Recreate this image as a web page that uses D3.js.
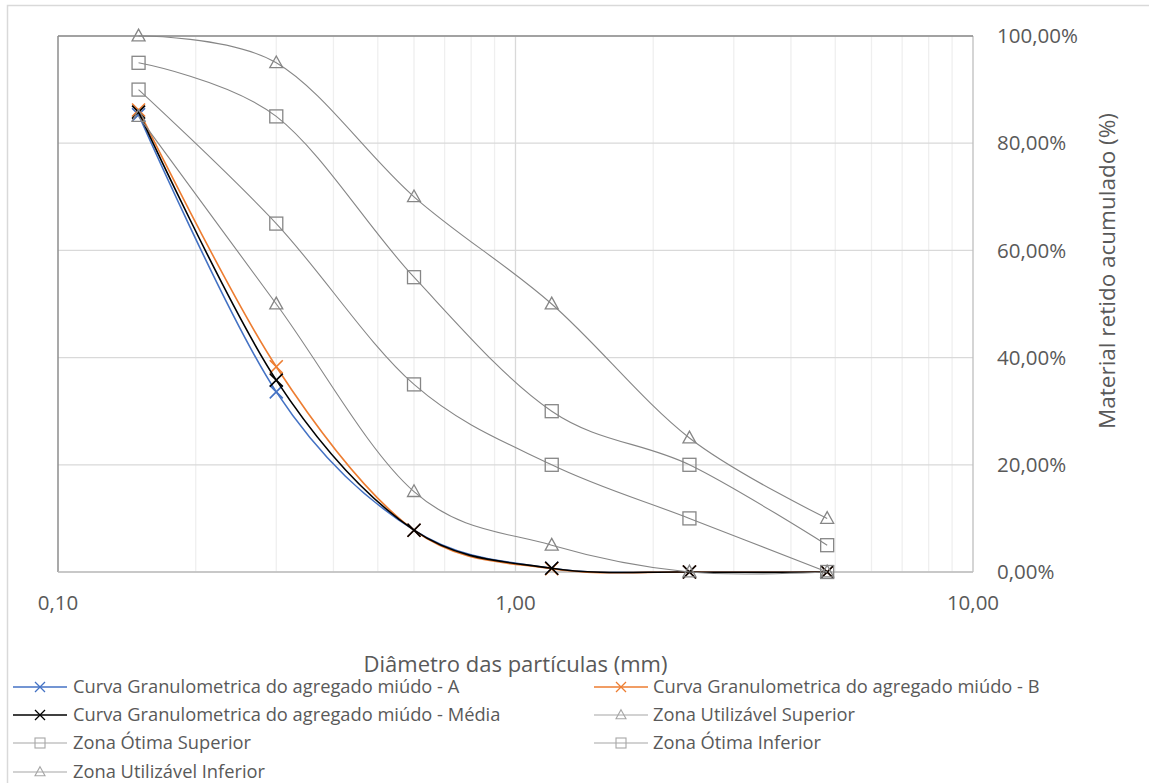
<!DOCTYPE html>
<html>
<head>
<meta charset="utf-8">
<script src="https://cdn.jsdelivr.net/npm/d3@7"></script>
<style>
  body { margin: 0; background: #fff; }
  svg { font-family: "Open Sans", "Noto Sans", sans-serif; }
</style>
</head>
<body>
<div id="chart"></div>
<script>
// sieve openings (mm)
const sieves = [0.15, 0.3, 0.6, 1.2, 2.4, 4.8];

// cumulative retained fractions
const curveA     = [0.853, 0.336, 0.078, 0.007, 0.0, 0.0];
const curveB     = [0.862, 0.383, 0.078, 0.006, 0.0, 0.0];
const curveMedia = [0.858, 0.358, 0.078, 0.007, 0.0, 0.0];
const utilSup    = [1.00, 0.95, 0.70, 0.50, 0.25, 0.10];
const otimaSup   = [0.95, 0.85, 0.55, 0.30, 0.20, 0.05];
const otimaInf   = [0.90, 0.65, 0.35, 0.20, 0.10, 0.00];
const utilInf    = [0.85, 0.50, 0.15, 0.05, 0.00, 0.00];

const yTicks = [0, 0.2, 0.4, 0.6, 0.8, 1.0];
const xTicks = [0.1, 1, 10];
const xMinor = [0.2, 0.3, 0.4, 0.5, 0.6, 0.7, 0.8, 0.9, 2, 3, 4, 5, 6, 7, 8, 9];

const seriesNames = [
  "Curva Granulometrica do agregado miúdo - A",
  "Curva Granulometrica do agregado miúdo - B",
  "Curva Granulometrica do agregado miúdo - Média",
  "Zona Utilizável Superior",
  "Zona Ótima Superior",
  "Zona Ótima Inferior",
  "Zona Utilizável Inferior"
];
const seriesValues = [curveA, curveB, curveMedia, utilSup, otimaSup, otimaInf, utilInf];
const seriesColors = ["#4472c4", "#ed7d31", "#000000", "#868686", "#868686", "#868686", "#868686"];
const seriesMarkers = ["x", "x", "x", "tri", "sq", "sq", "tri"];

let width = 1149;
let height = 783;
let plot = {left: 58, right: 973, top: 36, bottom: 572};
let textColor = "#595959";

let svg = d3.select("#chart").append("svg")
            .attr("width", width)
            .attr("height", height);

// chart area frame
svg.append("rect")
   .attr("x", 7.5).attr("y", 5.5)
   .attr("width", width + 10).attr("height", height + 10)
   .attr("fill", "none")
   .attr("stroke", "#d9d9d9")
   .attr("stroke-width", 1.5);

let x = d3.scaleLog().domain([0.1, 10]).range([plot.left, plot.right]);
let y = d3.scaleLinear().domain([0, 1]).range([plot.bottom, plot.top]);

let fmtX = d3.format(".2f");
let fmtY = d3.format(".2%");
let comma = s => s.replace(".", ",");

//gridlines
let grid = svg.append("g");
xMinor.forEach(function(v) {
  grid.append("line")
      .attr("x1", x(v)).attr("x2", x(v))
      .attr("y1", plot.top).attr("y2", plot.bottom)
      .attr("stroke", "#efefef").attr("stroke-width", 1.3);
});
grid.append("line")
    .attr("x1", x(1)).attr("x2", x(1))
    .attr("y1", plot.top).attr("y2", plot.bottom)
    .attr("stroke", "#d9d9d9").attr("stroke-width", 1.3);
yTicks.forEach(function(v) {
  grid.append("line")
      .attr("x1", plot.left).attr("x2", plot.right)
      .attr("y1", y(v)).attr("y2", y(v))
      .attr("stroke", "#d9d9d9").attr("stroke-width", 1.3);
});

// plot border
svg.append("line").attr("x1", plot.right).attr("x2", plot.right)
   .attr("y1", plot.top).attr("y2", plot.bottom)
   .attr("stroke", "#bfbfbf").attr("stroke-width", 1.3);
svg.append("line").attr("x1", plot.left).attr("x2", plot.right)
   .attr("y1", plot.top).attr("y2", plot.top)
   .attr("stroke", "#8c8c8c").attr("stroke-width", 1.5);
svg.append("line").attr("x1", plot.left).attr("x2", plot.left)
   .attr("y1", plot.top).attr("y2", plot.bottom)
   .attr("stroke", "#8c8c8c").attr("stroke-width", 1.5);
svg.append("line").attr("x1", plot.left).attr("x2", plot.right)
   .attr("y1", plot.bottom).attr("y2", plot.bottom)
   .attr("stroke", "#bfbfbf").attr("stroke-width", 1.5);

// x tick labels
xTicks.forEach(function(v) {
  svg.append("text")
     .attr("x", x(v)).attr("y", 603)
     .attr("dy", "0.35em")
     .attr("text-anchor", "middle")
     .attr("fill", textColor)
     .style("font-size", "20.5px")
     .text(comma(fmtX(v)));
});

// y tick labels (right side)
yTicks.forEach(function(v) {
  svg.append("text")
     .attr("x", 997).attr("y", y(v))
     .attr("dy", "0.35em")
     .attr("fill", textColor)
     .style("font-size", "20.5px")
     .text(comma(fmtY(v)));
});

// axis titles
svg.append("text")
   .attr("x", (plot.left + plot.right) / 2).attr("y", 664)
   .attr("dy", "0.35em")
   .attr("text-anchor", "middle")
   .attr("fill", textColor)
   .style("font-size", "22px")
   .text("Diâmetro das partículas (mm)");

svg.append("text")
   .attr("transform", "translate(1107,271) rotate(-90)")
   .attr("dy", "0.35em")
   .attr("text-anchor", "middle")
   .attr("fill", textColor)
   .style("font-size", "22.5px")
   .text("Material retido acumulado (%)");

/*drawMarker: draws a single marker
*Parameters:
*   group, shape, centre, size, colour
*/
function drawMarker(g, shape, cx, cy, s, colour, w) {
  if (shape == "x") {
    g.append("path")
     .attr("d", "M" + (cx - s) + "," + (cy - s) + "L" + (cx + s) + "," + (cy + s) +
                "M" + (cx - s) + "," + (cy + s) + "L" + (cx + s) + "," + (cy - s))
     .attr("stroke", colour).attr("stroke-width", w).attr("fill", "none");
  } else if (shape == "sq") {
    g.append("rect")
     .attr("x", cx - s).attr("y", cy - s)
     .attr("width", 2 * s).attr("height", 2 * s)
     .attr("stroke", colour).attr("stroke-width", w).attr("fill", "none");
  } else {
    g.append("path")
     .attr("d", "M" + cx + "," + (cy - s * 1.05) + "L" + (cx + s) + "," + (cy + s * 0.75) +
                "L" + (cx - s) + "," + (cy + s * 0.75) + "Z")
     .attr("stroke", colour).attr("stroke-width", w).attr("fill", "none");
  }
}

// series
let line = d3.line()
             .x(d => x(d[0]))
             .y(d => y(d[1]))
             .curve(d3.curveCatmullRom.alpha(0));

let seriesG = svg.append("g");
seriesValues.forEach(function(vals, i) {
  let pts = sieves.map((s, k) => [s, vals[k]]);
  let colored = i < 3;
  seriesG.append("path")
         .datum(pts)
         .attr("d", line)
         .attr("fill", "none")
         .attr("stroke", seriesColors[i])
         .attr("stroke-width", colored ? 1.6 : 1.1);
  pts.forEach(function(p) {
    drawMarker(seriesG, seriesMarkers[i], x(p[0]), y(p[1]), 6.5, seriesColors[i], colored ? 1.6 : 1.3);
  });
});

// legend
let legendRows = [687, 715, 743, 772];
let legendCols = [{x0: 13, x1: 67, tx: 73}, {x0: 594, x1: 648, tx: 653}];
let legend = svg.append("g");
seriesNames.forEach(function(name, i) {
  let row = Math.floor(i / 2);
  let col = legendCols[i % 2];
  let ly = legendRows[row];
  let colored = i < 3;
  legend.append("line")
        .attr("x1", col.x0).attr("x2", col.x1)
        .attr("y1", ly).attr("y2", ly)
        .attr("stroke", colored ? seriesColors[i] : "#a6a6a6")
        .attr("stroke-width", colored ? 1.3 : 1.1);
  drawMarker(legend, seriesMarkers[i], (col.x0 + col.x1) / 2, ly, 5, colored ? seriesColors[i] : "#a6a6a6", colored ? 1.3 : 1.1);
  legend.append("text")
        .attr("x", col.tx).attr("y", ly)
        .attr("dy", "0.35em")
        .attr("fill", textColor)
        .style("font-size", "18.3px")
        .text(name);
});
</script>
</body>
</html>
